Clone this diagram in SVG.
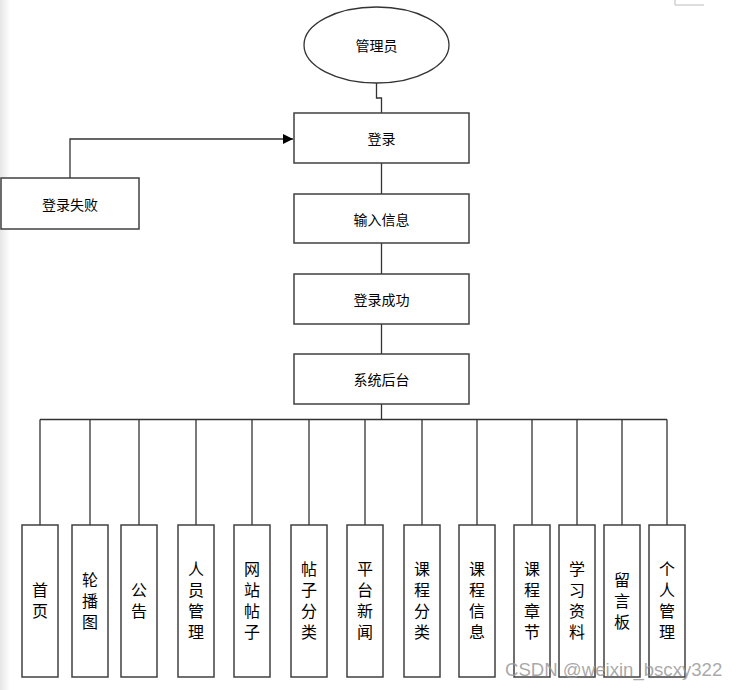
<svg xmlns="http://www.w3.org/2000/svg" width="738" height="690" viewBox="0 0 738 690">
<defs>
<style>
.box{fill:#fff;stroke:#404040;stroke-width:1.5}
.ln{fill:none;stroke:#333;stroke-width:1.3}
.t{font-family:"Noto Sans CJK SC","Noto Sans",sans-serif;font-size:14px;fill:#000;text-anchor:middle;dominant-baseline:central}
.v{font-family:"Noto Sans CJK SC","Noto Sans",sans-serif;font-size:16px;fill:#000;text-anchor:middle;writing-mode:vertical-rl;letter-spacing:5px}
</style>
<linearGradient id="edge" x1="0" x2="1" y1="0" y2="0">
<stop offset="0" stop-color="#e6e6e6"/>
<stop offset="1" stop-color="#fff"/>
</linearGradient>
<marker id="arr" markerWidth="10" markerHeight="10" refX="10" refY="5" orient="auto" markerUnits="userSpaceOnUse">
<path d="M0,0 L10,5 L0,10 z" fill="#000"/>
</marker>
</defs>
<rect x="0" y="0" width="738" height="690" fill="#fff"/>
<rect x="0" y="0" width="10" height="690" fill="url(#edge)"/>
<path d="M675,0 V5 H704" fill="none" stroke="#bbb" stroke-width="1"/>

<g id="connectors">
<path class="ln" d="M376.5,83 V98 H381.5 V113"/>
<path class="ln" d="M70,178 V139 H293" marker-end="url(#arr)"/>
<path class="ln" d="M381.5,163 V194"/>
<path class="ln" d="M381.5,243 V274"/>
<path class="ln" d="M381.5,324 V354"/>
<path class="ln" d="M381.5,404 V419.5" stroke-width="2"/>
<path class="ln" d="M40,419.5 H667"/>
<path class="ln" d="M40,419.5 V525 M90,419.5 V525 M139,419.5 V525 M196,419.5 V525 M252,419.5 V525 M309,419.5 V525 M365,419.5 V525 M422,419.5 V525 M477,419.5 V525 M532,419.5 V525 M577,419.5 V525 M622,419.5 V525 M667,419.5 V525"/>
</g>

<g id="admin"><ellipse cx="376.5" cy="45" rx="72.5" ry="38" fill="#fff" stroke="#333" stroke-width="1.3"/><text class="t" x="376.5" y="45">管理员</text></g>
<g id="login"><rect class="box" x="294" y="113" width="175" height="50"/><text class="t" x="381.5" y="138">登录</text></g>
<g id="loginFail"><rect class="box" x="1" y="178" width="138" height="51"/><text class="t" x="70" y="203.5">登录失败</text></g>
<g id="input"><rect class="box" x="294" y="194" width="175" height="49"/><text class="t" x="381.5" y="218.5">输入信息</text></g>
<g id="success"><rect class="box" x="294" y="274" width="175" height="50"/><text class="t" x="381.5" y="299">登录成功</text></g>
<g id="system"><rect class="box" x="294" y="354" width="175" height="50"/><text class="t" x="381.5" y="379">系统后台</text></g>

<g id="m1"><rect class="box" x="22" y="525" width="36" height="152"/><text class="v" x="40" y="603">首页</text></g>
<g id="m2"><rect class="box" x="72" y="525" width="36" height="152"/><text class="v" x="90" y="603">轮播图</text></g>
<g id="m3"><rect class="box" x="121" y="525" width="36" height="152"/><text class="v" x="139" y="603">公告</text></g>
<g id="m4"><rect class="box" x="178" y="525" width="36" height="152"/><text class="v" x="196" y="603">人员管理</text></g>
<g id="m5"><rect class="box" x="234" y="525" width="36" height="152"/><text class="v" x="252" y="603">网站帖子</text></g>
<g id="m6"><rect class="box" x="291" y="525" width="36" height="152"/><text class="v" x="309" y="603">帖子分类</text></g>
<g id="m7"><rect class="box" x="347" y="525" width="36" height="152"/><text class="v" x="365" y="603">平台新闻</text></g>
<g id="m8"><rect class="box" x="404" y="525" width="36" height="152"/><text class="v" x="422" y="603">课程分类</text></g>
<g id="m9"><rect class="box" x="459" y="525" width="36" height="152"/><text class="v" x="477" y="603">课程信息</text></g>
<g id="m10"><rect class="box" x="514" y="525" width="36" height="152"/><text class="v" x="532" y="603">课程章节</text></g>
<g id="m11"><rect class="box" x="559" y="525" width="36" height="152"/><text class="v" x="577" y="603">学习资料</text></g>
<g id="m12"><rect class="box" x="604" y="525" width="36" height="152"/><text class="v" x="622" y="603">留言板</text></g>
<g id="m13"><rect class="box" x="649" y="525" width="36" height="152"/><text class="v" x="667" y="603">个人管理</text></g>

<text x="505" y="676" font-family="'Liberation Sans',Arial,sans-serif" font-size="18.6" fill="#999" fill-opacity="0.85">CSDN @weixin_bscxy322</text>
</svg>
